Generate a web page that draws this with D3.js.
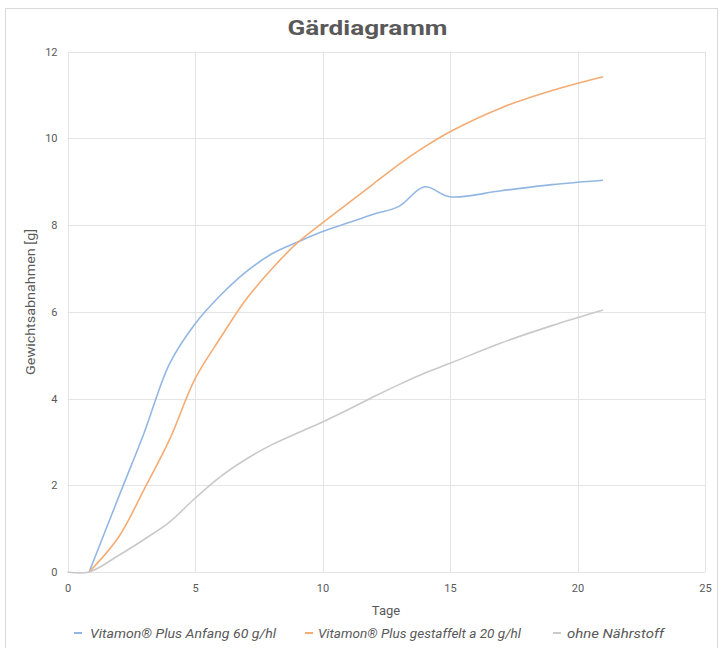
<!DOCTYPE html>
<html>
<head>
<meta charset="utf-8">
<script src="https://cdn.jsdelivr.net/npm/d3@7/dist/d3.min.js"></script>
<style>
  html, body { margin: 0; padding: 0; background: #fff; }
  svg { display: block; }
</style>
</head>
<body>
<svg id="chart" width="723" height="648"></svg>
<script>
const title = "Gärdiagramm";
const xTitle = "Tage";
const yTitle = "Gewichtsabnahmen [g]";
const seriesNames = ["Vitamon® Plus Anfang 60 g/hl", "Vitamon® Plus gestaffelt a 20 g/hl", "ohne Nährstoff"];
const seriesColors = ["#93b7e3", "#f4ac74", "#c9c9c9"];
const xTicks = [0, 5, 10, 15, 20, 25];
const yTicks = [0, 2, 4, 6, 8, 10, 12];

const daysA = [0.85, 2, 3, 4, 5, 6, 7, 8, 9, 10, 11, 12, 13, 14, 15, 17, 19, 21];
const blueValues   = [0, 1.72, 3.2, 4.8, 5.72, 6.38, 6.92, 7.33, 7.6, 7.85, 8.05, 8.25, 8.43, 8.88, 8.65, 8.79, 8.93, 9.03];
const orangeValues = [0, 0.8, 1.9, 3.05, 4.45, 5.4, 6.28, 6.98, 7.58, 8.05, 8.5, 8.95, 9.4, 9.8, 10.15, 10.7, 11.1, 11.42];
const daysC = [0, 0.85, 2, 3, 4, 5, 6, 7, 8, 9, 10, 11, 12, 13, 14, 15, 17, 19, 21];
const grayValues   = [0, 0, 0.38, 0.75, 1.15, 1.7, 2.2, 2.6, 2.93, 3.2, 3.46, 3.74, 4.04, 4.32, 4.58, 4.81, 5.28, 5.68, 6.04];

const series = [
  { name: seriesNames[0], color: seriesColors[0], pts: daysA.map((d, i) => [d, blueValues[i]]) },
  { name: seriesNames[1], color: seriesColors[1], pts: daysA.map((d, i) => [d, orangeValues[i]]) },
  { name: seriesNames[2], color: seriesColors[2], pts: daysC.map((d, i) => [d, grayValues[i]]) }
];

const svg = d3.select("#chart");
const font = "Roboto, 'Liberation Sans', Arial, sans-serif";
const textColor = "#595959";

// outer border
svg.append("rect").attr("x", 5.5).attr("y", 8.5).attr("width", 712).attr("height", 650)
  .attr("fill", "#fff").attr("stroke", "#d9d9d9");

const x = d3.scaleLinear().domain([0, 25]).range([67.5, 705]);
const y = d3.scaleLinear().domain([0, 12]).range([572, 51.5]);

// gridlines
const grid = svg.append("g");
grid.selectAll("line.h").data(yTicks).join("line")
  .attr("x1", x(0)).attr("x2", x(25))
  .attr("y1", d => Math.round(y(d)) + 0.5).attr("y2", d => Math.round(y(d)) + 0.5)
  .attr("stroke", "#e4e4e4").attr("stroke-width", 1);
grid.selectAll("line.v").data(xTicks).join("line")
  .attr("y1", y(0)).attr("y2", y(12))
  .attr("x1", d => Math.round(x(d)) + 0.5).attr("x2", d => Math.round(x(d)) + 0.5)
  .attr("stroke", "#e4e4e4").attr("stroke-width", 1);

// axes
const xAxis = d3.axisBottom(x).tickValues(xTicks).tickSize(0).tickPadding(12);
const gx = svg.append("g").attr("transform", `translate(0,${y(0)})`).call(xAxis);
gx.select(".domain").remove();
gx.selectAll("text").attr("fill", textColor).style("font-family", font).style("font-size", "11px");

const yAxis = d3.axisLeft(y).tickValues(yTicks).tickSize(0).tickPadding(10);
const gy = svg.append("g").attr("transform", `translate(${x(0)},0)`).call(yAxis);
gy.select(".domain").remove();
gy.selectAll("text").attr("fill", textColor).style("font-family", font).style("font-size", "11px");

// lines
const line = d3.line().x(d => x(d[0])).y(d => y(d[1])).curve(d3.curveCatmullRom.alpha(0.5));
svg.append("g").selectAll("path").data(series).join("path")
  .attr("d", d => line(d.pts))
  .attr("fill", "none")
  .attr("stroke", d => d.color)
  .attr("stroke-width", 1.6)
  .attr("stroke-linejoin", "round");

// title
svg.append("text").attr("x", 367.5).attr("y", 35).attr("text-anchor", "middle")
  .attr("fill", textColor).style("font-family", font).style("font-weight", "bold")
  .style("font-size", "21px")
  .attr("textLength", 160).attr("lengthAdjust", "spacingAndGlyphs")
  .text(title);

// axis titles
svg.append("text").attr("x", 386).attr("y", 615).attr("text-anchor", "middle")
  .attr("fill", textColor).style("font-family", font).style("font-size", "13px").text(xTitle);
svg.append("text").attr("transform", "translate(35,302) rotate(-90)").attr("text-anchor", "middle")
  .attr("fill", textColor).style("font-family", font).style("font-size", "12.5px")
  .attr("textLength", 146).attr("lengthAdjust", "spacingAndGlyphs")
  .text(yTitle);

// legend
const legendMarkX = [74, 305, 553];
const legendTextX = [90, 318, 567];
const legendTextW = [186, 203, 97];
const lg = svg.append("g").selectAll("g").data(series).join("g");
lg.append("line")
  .attr("x1", (d, i) => legendMarkX[i]).attr("x2", (d, i) => legendMarkX[i] + 8)
  .attr("y1", 633).attr("y2", 633)
  .attr("stroke", d => d.color).attr("stroke-width", 2);
lg.append("text").attr("x", (d, i) => legendTextX[i]).attr("y", 638)
  .attr("fill", textColor).style("font-family", font).style("font-style", "italic")
  .style("font-size", "13px")
  .attr("textLength", (d, i) => legendTextW[i]).attr("lengthAdjust", "spacingAndGlyphs")
  .text(d => d.name);
</script>
</body>
</html>
